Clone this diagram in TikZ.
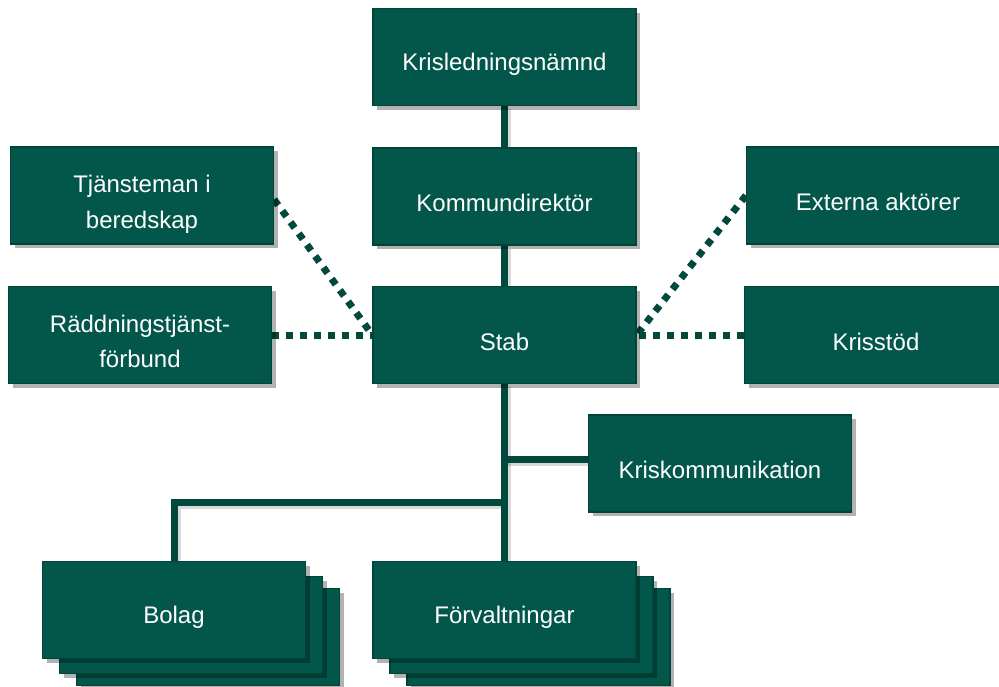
\documentclass[tikz,border=0pt]{standalone}
\usepackage{fontspec}
\setmainfont{Liberation Sans}
\usetikzlibrary{shadows}
\definecolor{boxgreen}{HTML}{02574A}
\definecolor{boxedge}{HTML}{01453A}
\definecolor{linegreen}{HTML}{01483D}
\pgfdeclarelayer{bg}
\pgfsetlayers{bg,main}
\begin{document}
\begin{tikzpicture}[x=1pt,y=-1pt,
  box/.style={rectangle, fill=boxgreen, draw=boxedge, line width=1.2pt,
    minimum width=263pt, minimum height=97pt, inner sep=0pt,
    text=white, align=center, font=\fontsize{24}{35.5}\selectfont,
    text height=31pt,
    drop shadow={shadow xshift=4pt, shadow yshift=-4pt, opacity=0.3, fill=black}},
  twoline/.style={text height=70pt, text depth=5pt},
  solidlink/.style={draw=linegreen, line width=7pt},
  dotlink/.style={draw=linegreen, line width=7pt, dash pattern=on 7pt off 7pt},
  shadowlink/.style={draw=black, opacity=0.15, line width=7pt, transform canvas={xshift=3pt, yshift=-3pt}}
]
\useasboundingbox (0,0) rectangle (999,686);

\node[box] (krn) at (504.5,57) {Krisledningsnämnd};
\node[box] (kd) at (504.5,196.5) {Kommundirektör};
\node[box] (stab) at (504.5,335) {Stab};
\node[box, twoline] (tjm) at (142,195.5) {Tjänsteman i\\beredskap};
\node[box, twoline] (rtf) at (140,335) {Räddningstjänst-\\förbund};
\node[box] (ext) at (878,195.5) {Externa aktörer};
\node[box] (ks) at (876,335) {Krisstöd};
\node[box] (kk) at (720,463.5) {Kriskommunikation};

\node[box] (forv3) at (538.5,637) {};
\node[box] (forv2) at (521.5,625) {};
\node[box] (forv) at (504.5,610) {Förvaltningar};

\node[box] (bolag3) at (208,637) {};
\node[box] (bolag2) at (191,625) {};
\node[box] (bolag) at (174,610) {Bolag};

\coordinate (j) at (504.5,502);

\begin{pgfonlayer}{bg}
  \fill[white] (0,0) rectangle (999,686);
  \foreach \st in {shadowlink, solidlink}{
    \draw[\st] (krn.south) -- (kd.north);
    \draw[\st] (kd.south) -- (stab.north);
    \draw[\st] (stab.south) -- (forv.north);
    \draw[\st] ([yshift=4pt]kk.west) -- ([yshift=4pt]kk.west -| stab.south);
    \draw[\st] (bolag.north) |- (j);
  }
  \draw[dotlink] ([yshift=-4pt]tjm.east) -- (stab.west);
  \draw[dotlink] (rtf.east) -- (stab.west);
  \draw[dotlink] (ext.west) -- (stab.east);
  \draw[dotlink] (ks.west) -- (stab.east);
\end{pgfonlayer}
\end{tikzpicture}
\end{document}
